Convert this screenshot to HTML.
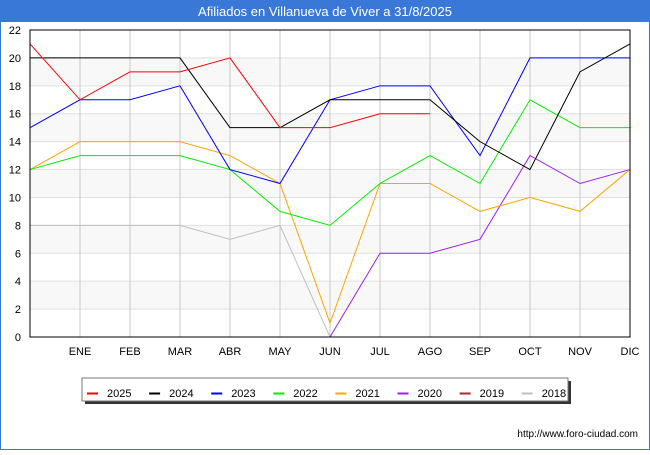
<!DOCTYPE html>
<html><head><meta charset="utf-8"><style>
body{margin:0;width:650px;height:450px;background:#fff;font-family:"Liberation Sans","DejaVu Sans",sans-serif;overflow:hidden}
</style></head><body>
<svg id="c" width="650" height="450" xmlns="http://www.w3.org/2000/svg">
<rect x="0" y="0" width="650" height="450" fill="#fff" stroke="#3a78d8" stroke-width="2"/>
<rect x="0" y="0" width="650" height="22" fill="#3a78d8"/>
<text x="325" y="16" text-anchor="middle" fill="#fff" font-size="13">Afiliados en Villanueva de Viver a 31/8/2025</text>
<g id="grid"></g><g id="series"></g><g id="axes"></g>
<text x="638" y="437" text-anchor="end" font-size="10" fill="#000">http://www.foro-ciudad.com</text>
<g id="legend"></g>
</svg>
<script>
const months=["","ENE","FEB","MAR","ABR","MAY","JUN","JUL","AGO","SEP","OCT","NOV","DIC"];
const yTicks=[0,2,4,6,8,10,12,14,16,18,20,22];
const years=["2025","2024","2023","2022","2021","2020","2019","2018"];
const colors=["#ff0000","#000000","#0000ff","#00ee00","#ffa500","#a020f0","#a52a2a","#c0c0c0"];
const s2025=[21,17,19,19,20,15,15,16,16];
const s2024=[20,20,20,20,15,15,17,17,17,14,12,19,21];
const s2023=[15,17,17,18,12,11,17,18,18,13,20,20,20];
const s2022=[12,13,13,13,12,9,8,11,13,11,17,15,15];
const s2021=[12,14,14,14,13,11,1,11,11,9,10,9,12];
const s2020=[null,null,null,null,null,null,0,6,6,7,13,11,12];
const s2019=[];
const s2018=[8,8,8,8,7,8,0];
const data=[s2025,s2024,s2023,s2022,s2021,s2020,s2019,s2018];
const X0=30,X1=630,Y0=337,Y1=30,YMAX=22;
const xs=i=>X0+(X1-X0)*i/12, ys=v=>Y0-(Y0-Y1)*v/YMAX;
const NS="http://www.w3.org/2000/svg";
function mk(t,a,p){const e=document.createElementNS(NS,t);for(const k in a)e.setAttribute(k,a[k]);p.appendChild(e);return e;}
const g=document.getElementById('grid'),ax=document.getElementById('axes'),se=document.getElementById('series'),lg=document.getElementById('legend');
for(let i=0;i<yTicks.length-1;i++){const r=mk('rect',{x:X0,y:ys(yTicks[i+1]),width:X1-X0,height:ys(yTicks[i])-ys(yTicks[i+1]),fill:i%2?'#f8f8f8':'#ffffff'},g);
}
yTicks.forEach(v=>{const l=mk('line',{x1:X0,x2:X1,y1:ys(v),y2:ys(v),stroke:'#e0e0e0'},g);

const t=mk('text',{x:X0-9,y:ys(v)+4,'text-anchor':'end','font-size':'11'},ax);t.textContent=v;
});
months.forEach((m,i)=>{if(i>0){const l=mk('line',{x1:xs(i),x2:xs(i),y1:Y1,y2:Y0,stroke:'#c8c8c8'},g);

const t=mk('text',{x:xs(i),y:Y0+18,'text-anchor':'middle','font-size':'11'},ax);t.textContent=m;
}});
const bx=mk('rect',{x:X0,y:Y1,width:X1-X0,height:Y0-Y1,fill:'none',stroke:'#000'},ax);

for(let k=data.length-1;k>=0;k--){const d=data[k];let pts=[];d.forEach((v,i)=>{if(v!==null)pts.push(xs(i)+','+ys(v));});
if(pts.length<2)continue;const p=mk('polyline',{points:pts.join(' '),fill:'none',stroke:colors[k],'stroke-width':1},se);
}
const sh=mk('rect',{x:85,y:381,width:486,height:23,fill:'#333'},lg);
const lb=mk('rect',{x:82,y:378,width:486,height:23,fill:'#fff',stroke:'#777'},lg);
years.forEach((y,k)=>{const x0=87+k*62.1;const gg=mk('g',{},lg);
mk('line',{x1:x0,x2:x0+11,y1:393.5,y2:393.5,stroke:colors[k],'stroke-width':2},gg);
const t=mk('text',{x:x0+20,y:397,'font-size':'11'},gg);t.textContent=y;});
</script>
</body></html>
